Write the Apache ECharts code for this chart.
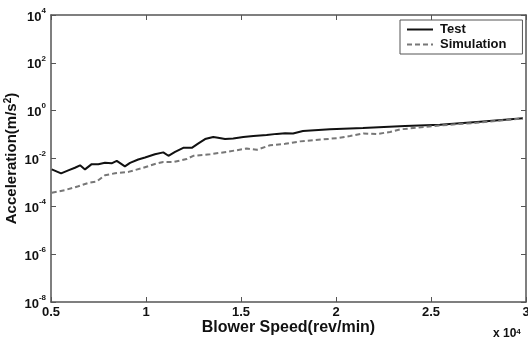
<!DOCTYPE html>
<html>
<head>
<meta charset="utf-8">
<script src="https://cdn.jsdelivr.net/npm/echarts@6/dist/echarts.min.js"></script>
<style>html,body{margin:0;padding:0;background:#fff}#c{width:528px;height:345px}</style>
</head>
<body>
<div id="c"></div>
<script>
// Blower speed in units of 10^4 rev/min
var testSpeed = [0.504,0.553,0.591,0.626,0.653,0.679,0.714,0.749,0.784,0.819,0.846,0.889,0.916,0.959,0.995,1.047,1.091,1.118,1.153,1.196,1.241,1.276,1.311,1.354,1.379,1.416,1.459,1.512,1.565,1.635,1.688,1.732,1.774,1.826,1.968,2.142,2.363,2.547,2.758,2.984];
var testAccel = [0.0035,0.0024,0.0032,0.0041,0.0052,0.0035,0.0058,0.0058,0.0066,0.0063,0.0079,0.0047,0.0066,0.0091,0.011,0.015,0.018,0.013,0.019,0.028,0.028,0.043,0.065,0.079,0.074,0.065,0.069,0.079,0.087,0.095,0.107,0.115,0.112,0.141,0.166,0.19,0.23,0.257,0.347,0.48];
var simSpeed = [0.504,0.574,0.644,0.696,0.741,0.784,0.837,0.907,0.977,1.047,1.091,1.144,1.214,1.249,1.337,1.425,1.530,1.583,1.653,1.732,1.811,1.933,2.004,2.074,2.144,2.214,2.284,2.337,2.547,2.758,2.984];
var simAccel = [0.00037,0.00048,0.00069,0.00095,0.0011,0.0020,0.0024,0.00275,0.0039,0.0059,0.0072,0.0071,0.0095,0.013,0.015,0.019,0.026,0.023,0.036,0.041,0.052,0.063,0.071,0.087,0.112,0.105,0.129,0.165,0.24,0.32,0.47];
var xTicks = [0.5,1,1.5,2,2.5,3];
var seriesNames = ['Test','Simulation'];

function pairs(xs, ys){ return xs.map(function(x,i){ return [x, ys[i]]; }); }
var F = 'Liberation Sans, Arial, sans-serif';
var axisCol = '#555';
var chart = echarts.init(document.getElementById('c'));
chart.setOption({
  animation: false,
  grid: {left: 51, right: 2, top: 15, bottom: 43, containLabel: false, outerBoundsMode: 'none'},
  legend: {
    left: 400, top: 20, orient: 'vertical',
    data: seriesNames,
    itemWidth: 26, itemHeight: 10, itemGap: 2,
    padding: [3, 16, 3, 6],
    borderColor: axisCol, borderWidth: 1, backgroundColor: '#fff',
    itemStyle: {opacity: 0},
    textStyle: {fontFamily: F, fontWeight: 'bold', fontSize: 13, color: '#111', padding: [0,0,0,2]}
  },
  xAxis: [{
    type: 'value', min: 0.5, max: 3, interval: 0.5,
    axisLine: {lineStyle: {color: axisCol, width: 1.5}},
    axisTick: {inside: true, length: 5, lineStyle: {color: axisCol}},
    splitLine: {show: false},
    axisLabel: {fontFamily: F, fontWeight: 'bold', fontSize: 13, color: '#111', margin: 4,
      formatter: function(v){ return String(v); }},
    name: 'Blower Speed(rev/min)', nameLocation: 'middle', nameGap: 18, nameMoveOverlap: false,
    nameTextStyle: {fontFamily: F, fontWeight: 'bold', fontSize: 16, color: '#111'}
  },{
    type: 'value', position: 'top', min: 0.5, max: 3, interval: 0.5,
    axisLine: {lineStyle: {color: axisCol, width: 1.5}},
    axisTick: {inside: true, length: 5, lineStyle: {color: axisCol}},
    axisLabel: {show: false}, splitLine: {show: false}
  }],
  yAxis: [{
    type: 'log', logBase: 100, min: 1e-8, max: 1e4,
    axisLine: {show: true, lineStyle: {color: axisCol, width: 1.5}},
    axisTick: {show: true, inside: true, length: 5, lineStyle: {color: axisCol}},
    splitLine: {show: false},
    axisLabel: {margin: 5, formatter: function(v){ var e = Math.round(Math.log10(v)); return '{b|10}{s|' + e + '}'; },
      rich: {
        b: {fontFamily: F, fontWeight: 'bold', fontSize: 13, color: '#111', padding: [4,0,0,0]},
        s: {fontFamily: F, fontWeight: 'bold', fontSize: 8, color: '#111', verticalAlign: 'top', padding: [0,0,6,0]}
      }},
    name: 'Acceleration(m/s{s|2})', nameLocation: 'middle', nameGap: 30, nameRotate: 90, nameMoveOverlap: false,
    nameTextStyle: {fontFamily: F, fontWeight: 'bold', fontSize: 15, color: '#111',
      rich: {s: {fontFamily: F, fontWeight: 'bold', fontSize: 10, color: '#111', padding: [0,0,8,0]}}}
  },{
    type: 'log', logBase: 100, min: 1e-8, max: 1e4, position: 'right',
    axisLine: {show: true, lineStyle: {color: axisCol, width: 1.5}},
    axisTick: {show: true, inside: true, length: 5, lineStyle: {color: axisCol}},
    axisLabel: {show: false}, splitLine: {show: false}
  }],
  graphic: [{
    type: 'text', left: 493, top: 328,
    style: {rich: {b: {fontFamily: F, fontWeight: 'bold', fontSize: 12, fill: '#111', padding: [4,0,0,0]}, s: {fontFamily: F, fontWeight: 'bold', fontSize: 8, fill: '#111'}},
      text: '{b|x 10}{s|4}'}
  }],
  series: [{
    name: seriesNames[0], type: 'line', showSymbol: false, symbol: 'none',
    data: pairs(testSpeed, testAccel),
    lineStyle: {color: '#111', width: 2},
    itemStyle: {color: '#111'}
  },{
    name: seriesNames[1], type: 'line', showSymbol: false, symbol: 'none',
    data: pairs(simSpeed, simAccel),
    lineStyle: {color: '#777', width: 2, type: [5, 3]},
    itemStyle: {color: '#777'}
  }]
});
</script>
</body>
</html>
